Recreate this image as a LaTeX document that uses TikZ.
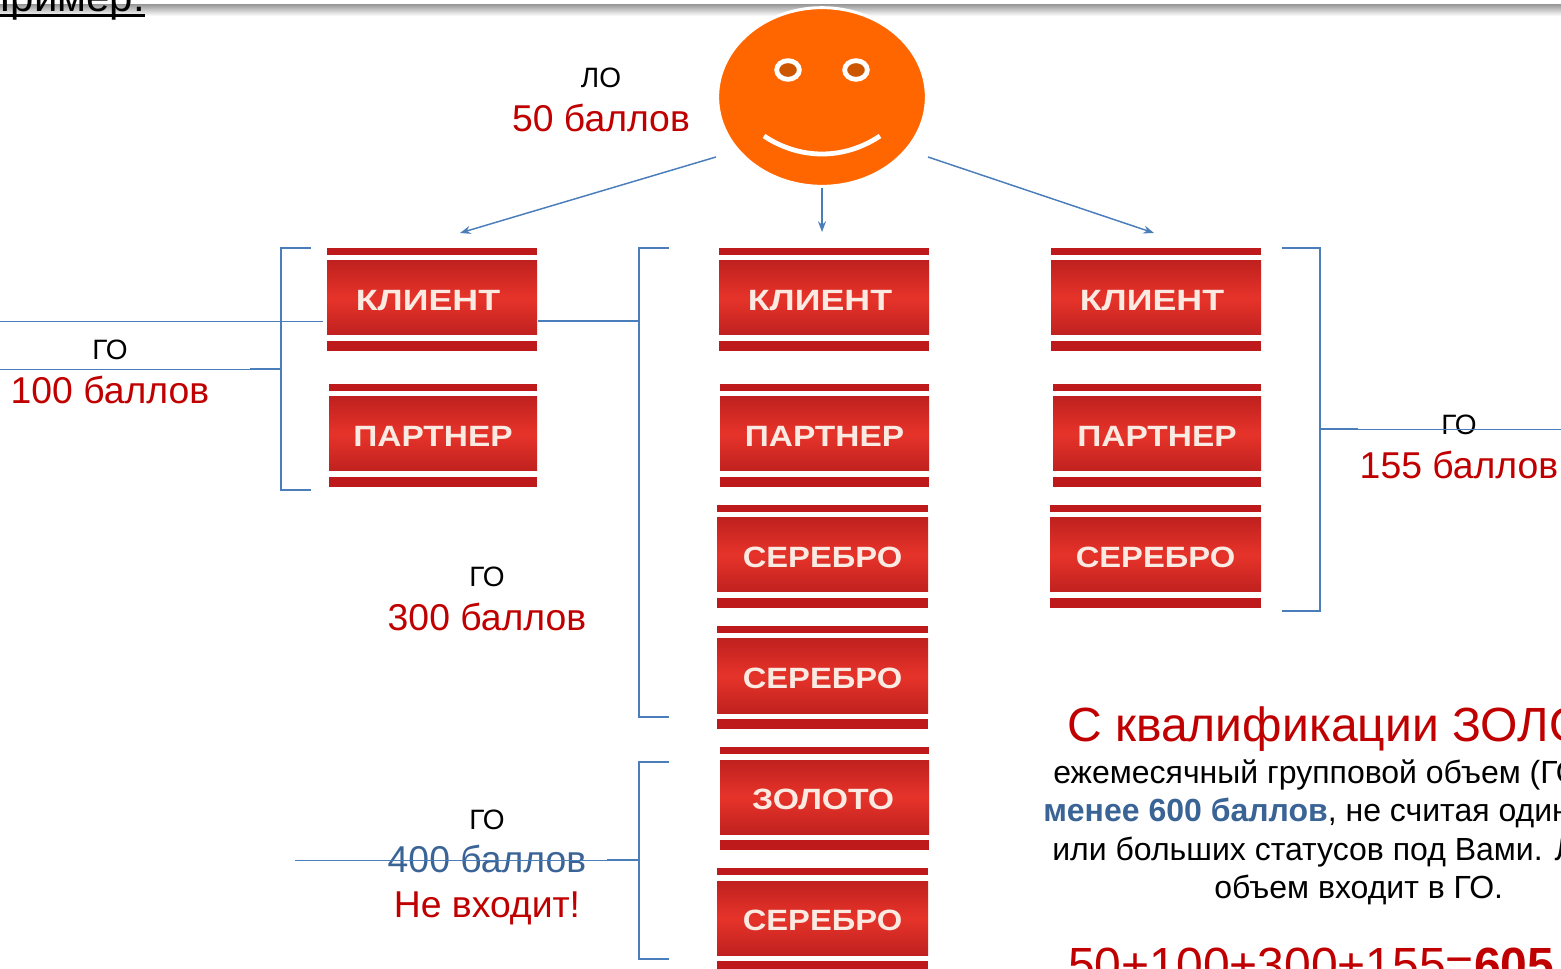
\documentclass[tikz,border=0pt]{standalone}
\usepackage{fontspec}
\setmainfont{Liberation Sans}
\usetikzlibrary{arrows.meta,shapes.geometric}
\definecolor{redtxt}{HTML}{C00000}
\definecolor{bluetxt}{HTML}{3A6496}
\definecolor{linkc}{HTML}{4A7EBB}
\definecolor{bardark}{HTML}{BE1A1C}
\definecolor{edgered}{HTML}{C0211F}
\definecolor{midred}{HTML}{E6332A}
\definecolor{orangeface}{HTML}{FF6600}
\definecolor{eyedark}{HTML}{CC5500}
\definecolor{badgetxt}{HTML}{FBEAE2}
\newcommand{\sz}[1]{\fontsize{#1}{#1}\selectfont}
\newcommand{\badge}[5]{%
  \pgfmathsetmacro{\bw}{#3-#2}\pgfmathsetmacro{\bc}{(#2+#3)/2}%
  \fill[bardark] (#2,#4) rectangle (#3,#4+7);
  \fill[bardark] (#2,#4+93) rectangle (#3,#4+103);
  \node[badgebox,minimum width=\bw*0.75pt] (#1) at (\bc,#4+50) {#5};
}
\newcommand{\klient}{\scalebox{1.22}[1]{\bfseries КЛИЕНТ}\kern6pt}
\newcommand{\partner}{\scalebox{1.14}[1]{\bfseries ПАРТНЕР}}
\newcommand{\serebro}{\scalebox{1.115}[1]{\bfseries СЕРЕБРО}}
\newcommand{\zoloto}{\scalebox{1.15}[1]{\bfseries ЗОЛОТО}\kern2pt}
\tikzset{
  badgebox/.style={inner sep=0pt,minimum height=55.5pt,text height=18.75pt,text depth=0pt,text=badgetxt,font=\sz{22pt},top color=edgered,bottom color=edgered,middle color=midred},
  plainlbl/.style={anchor=base,font=\sz{21pt},text=black},
  redlbl/.style={anchor=base,font=\sz{28pt},text=redtxt},
  bodyl/.style={anchor=base west,font=\sz{24pt},text=black,inner sep=0pt},
  biglbl/.style={anchor=base west,font=\sz{36pt},text=redtxt,inner sep=0pt},
  eye/.style={ellipse,fill=eyedark,draw=white,line width=3.6pt,minimum width=17pt,minimum height=14pt,inner sep=0pt},
  thinl/.style={draw=linkc,line width=0.7pt},
  brk/.style={draw=linkc,line width=1.2pt},
  thickl/.style={draw=linkc,line width=1.3pt},
  arr/.style={draw=linkc,line width=1.1pt,-{Stealth[length=8pt,width=6pt]}}
}
\begin{document}
\begin{tikzpicture}[x=0.75pt,y=-0.75pt]
\path[use as bounding box] (0,0) rectangle (1561,969);
\clip (0,0) rectangle (1561,969);
\fill[white] (0,0) rectangle (1561,969);
% top band
\shade[top color=black!38,bottom color=white] (0,5) rectangle (1561,16);
\node[anchor=base east,font=\sz{31.5pt},inner sep=0pt] (title) at (145,12) {Пример:};
\fill[black] (0,14.5) rectangle (145,17);
% face
\node[ellipse,fill=orangeface,draw=white,line width=2.2pt,minimum width=156.5pt,minimum height=134pt,inner sep=0pt] (face) at (822,97) {};
\node[eye] (eyeL) at (788,70) {};
\node[eye] (eyeR) at (856,70) {};
\draw[white,line width=3.6pt] (764,136) .. controls (800,160) and (844,160) .. (880,136);
% badges
\badge{k1}{327}{537}{248}{\klient}
\badge{p1}{329}{537}{384}{\partner}
\badge{k2}{719}{929}{248}{\klient}
\badge{p2}{720}{929}{384}{\partner}
\badge{s2}{717}{928}{505}{\serebro}
\badge{t2}{717}{928}{626}{\serebro}
\badge{z2}{720}{929}{747}{\zoloto}
\badge{u2}{717}{928}{868}{\serebro}
\badge{k3}{1051}{1261}{248}{\klient}
\badge{p3}{1053}{1261}{384}{\partner}
\badge{s3}{1050}{1261}{505}{\serebro}
% labels
\node[plainlbl] (lo) at (601,88) {ЛО};
\node[redlbl] (lov) at (601,132) {50 баллов};
\node[plainlbl] (go1) at (110,360) {ГО};
\node[redlbl] (go1v) at (110,404) {100 баллов};
\node[plainlbl] (go2) at (487,587) {ГО};
\node[redlbl] (go2v) at (487,631) {300 баллов};
\node[plainlbl] (go3) at (487,829) {ГО};
\node[redlbl,text=bluetxt] (go3v) at (487,872) {400 баллов};
\node[redlbl] (go3n) at (487,917) {Не входит!};
\node[plainlbl] (go4) at (1459,435) {ГО};
\node[redlbl] (go4v) at (1459,479) {155 баллов};
% text block
\node[biglbl] (h) at (1067,741) {С квалификации ЗОЛОТО};
\node[bodyl] (b1) at (1053,783) {ежемесячный групповой объем (ГО)};
\node[bodyl] (b2) at (1043,821) {\textcolor{bluetxt}{\bfseries менее 600 баллов}, не считая один};
\node[bodyl] (b3) at (1052,860) {или больших статусов под Вами. Л};
\node[bodyl] (b4) at (1214,898) {объем входит в ГО.};
\node[biglbl] (sum) at (1068,981) {50+100+300+155=\textbf{605}};
% coordinates
\coordinate (fl) at (716,157); \coordinate (fb) at (822,188); \coordinate (fr) at (928,157);
\coordinate (tl) at (460,233); \coordinate (tb) at (822,232); \coordinate (tr) at (1154,233);
\coordinate (a0) at (0,321); \coordinate (a1) at (323,321);
\coordinate (c0x) at (0,369); \coordinate (c1x) at (281,369); \coordinate (c1t) at (250,369);
\coordinate (d0) at (538,321); \coordinate (d1) at (639,321); \coordinate (d1t) at (609,321);
\coordinate (e0) at (295,860); \coordinate (e1) at (639,860); \coordinate (e1t) at (607,860);
\coordinate (f0) at (1320,429); \coordinate (f1) at (1561,429); \coordinate (f1t) at (1358,429);
% arrows
\draw[arr] (fl) -- (tl);
\draw[arr] (fb) -- (tb);
\draw[arr] (fr) -- (tr);
% brackets
\draw[brk] (311,248) -- (281,248) -- (281,490) -- (311,490);
\draw[brk] (669,248) -- (639,248) -- (639,717) -- (669,717);
\draw[brk] (669,762) -- (639,762) -- (639,959) -- (669,959);
\draw[brk] (1282,248) -- (1320,248) -- (1320,611) -- (1282,611);
% lines
\draw[thinl] (a0) -- (a1);
\draw[thinl] (c0x) -- (c1x);
\draw[thickl] (c1t) -- (c1x);
\draw[thinl,line width=1pt] (d0) -- (d1);
\draw[thickl] (d1t) -- (d1);
\draw[thinl] (e0) -- (e1);
\draw[thickl] (e1t) -- (e1);
\draw[thinl] (f0) -- (f1);
\draw[thickl] (f0) -- (f1t);
\end{tikzpicture}
\end{document}
